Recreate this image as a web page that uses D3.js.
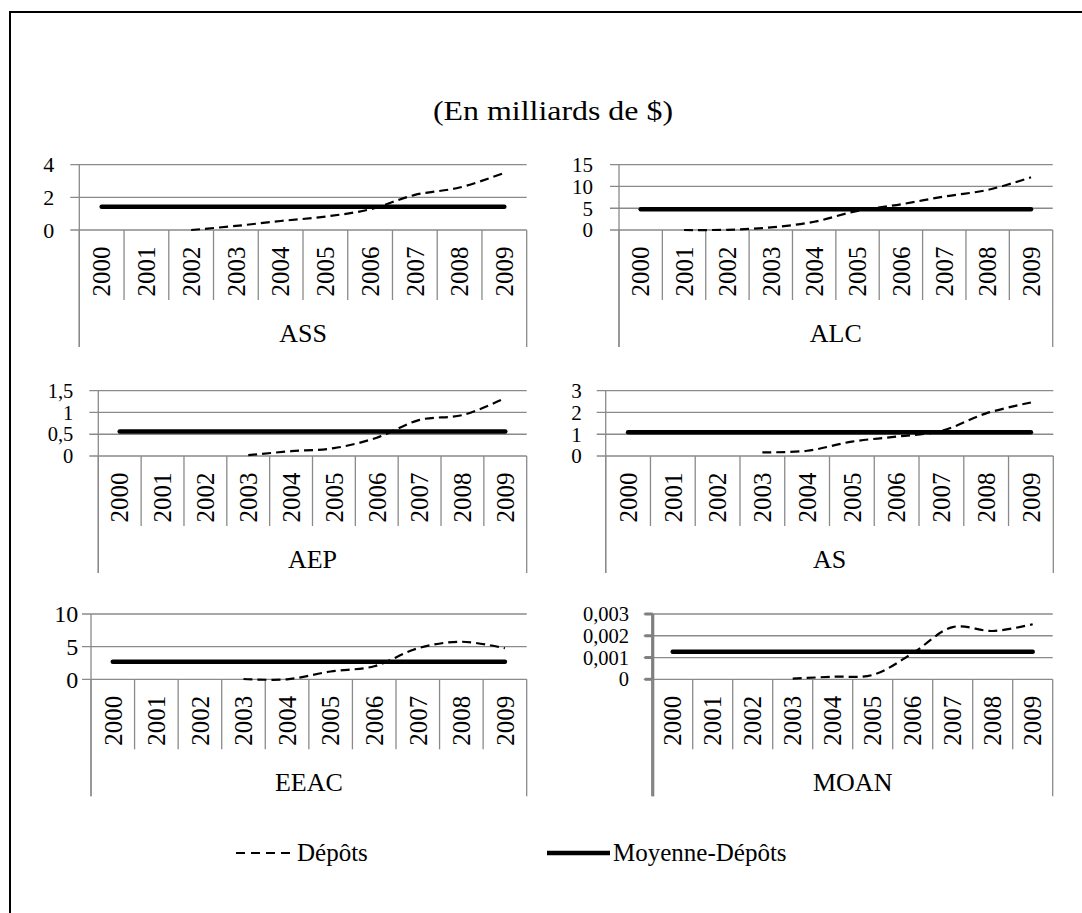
<!DOCTYPE html>
<html>
<head>
<meta charset="utf-8">
<script src="https://cdn.jsdelivr.net/npm/d3@7"></script>
<style>
  html, body { margin: 0; padding: 0; background: #fff; }
</style>
</head>
<body>
<svg id="chart" width="1082" height="913"></svg>
<script>
// ---------------- DATA ----------------
const years = ["2000","2001","2002","2003","2004","2005","2006","2007","2008","2009"];
const regions = ["ASS","ALC","AEP","AS","EEAC","MOAN"];
const seriesNames = ["Dépôts","Moyenne-Dépôts"];
const title = "(En milliards de $)";

// Dépôts (null = no value)
const depotsASS  = [null, null, 0.0, 0.25, 0.55, 0.82, 1.27, 2.15, 2.6, 3.5];
const depotsALC  = [null, 0.0, 0.05, 0.6, 1.9, 4.4, 5.9, 7.7, 9.2, 12.1];
const depotsAEP  = [null, null, null, 0.02, 0.11, 0.18, 0.42, 0.83, 0.94, 1.33];
const depotsAS   = [null, null, null, 0.17, 0.24, 0.66, 0.89, 1.15, 1.96, 2.46];
const depotsEEAC = [null, null, null, 0.05, 0.0, 1.2, 2.0, 4.75, 5.75, 4.75];
const depotsMOAN = [null, null, null, 0.00003, 0.00012, 0.0002, 0.0012, 0.0024, 0.00222, 0.00253];

// Moyenne-Dépôts (constant mean per region)
const meanASS  = 1.43;
const meanALC  = 4.75;
const meanAEP  = 0.56;
const meanAS   = 1.09;
const meanEEAC = 2.7;
const meanMOAN = 0.00127;

// Axis tick values and labels
const ticksASS  = [0, 2, 4];
const ticksALC  = [0, 5, 10, 15];
const ticksAEP  = [0, 0.5, 1, 1.5];
const ticksAS   = [0, 1, 2, 3];
const ticksEEAC = [0, 5, 10];
const ticksMOAN = [0, 0.001, 0.002, 0.003];
const labelsASS  = ["0","2","4"];
const labelsALC  = ["0","5","10","15"];
const labelsAEP  = ["0","0,5","1","1,5"];
const labelsAS   = ["0","1","2","3"];
const labelsEEAC = ["0","5","10"];
const labelsMOAN = ["0","0,001","0,002","0,003"];

// ---------------- LAYOUT (positions / styles only) ----------------
const layout = [
  {left: 79.3,  right: 526.7,  zero: 230,   top: 164.7, gap: 25,   tf: 22, thick: false},
  {left: 619,   right: 1052.7, zero: 230,   top: 164.7, gap: 26,   tf: 21, thick: false},
  {left: 98.3,  right: 526.7,  zero: 456,   top: 390.7, gap: 25,   tf: 20.5, thick: false},
  {left: 605.7, right: 1053.3, zero: 456,   top: 390.7, gap: 24,   tf: 21, thick: false},
  {left: 91,    right: 526.7,  zero: 679.3, top: 614,   gap: 12.7, tf: 24, thick: false},
  {left: 652.7, right: 1052.7, zero: 679.3, top: 614,   gap: 23.7, tf: 20.5, thick: true}
];

const panels = [
  {name: regions[0], vals: depotsASS,  mean: meanASS,  ticks: ticksASS,  labels: labelsASS},
  {name: regions[1], vals: depotsALC,  mean: meanALC,  ticks: ticksALC,  labels: labelsALC},
  {name: regions[2], vals: depotsAEP,  mean: meanAEP,  ticks: ticksAEP,  labels: labelsAEP},
  {name: regions[3], vals: depotsAS,   mean: meanAS,   ticks: ticksAS,   labels: labelsAS},
  {name: regions[4], vals: depotsEEAC, mean: meanEEAC, ticks: ticksEEAC, labels: labelsEEAC},
  {name: regions[5], vals: depotsMOAN, mean: meanMOAN, ticks: ticksMOAN, labels: labelsMOAN}
];

const FONT = "'Liberation Serif', 'Times New Roman', serif";
const svg = d3.select("#chart");
const GRID = "#8a8a8a";

// outer frame (cut off at right / bottom like reference)
svg.append("rect").attr("x", 10).attr("y", 12).attr("width", 1200).attr("height", 1000)
  .attr("fill", "none").attr("stroke", "#000").attr("stroke-width", 2);

// title
svg.append("text").attr("x", 553).attr("y", 120).attr("text-anchor", "middle")
  .style("font-family", FONT)
  .attr("font-size", 27).attr("textLength", 240).attr("lengthAdjust", "spacingAndGlyphs")
  .text(title);

panels.forEach((p, i) => {
  const L = layout[i];
  const g = svg.append("g");
  const x = d3.scaleBand().domain(years).range([L.left, L.right]).padding(0);
  const y = d3.scaleLinear().domain([p.ticks[0], p.ticks[p.ticks.length - 1]]).range([L.zero, L.top]);

  // gridlines + outward ticks
  g.selectAll(".grid").data(p.ticks).join("line")
    .attr("x1", L.left - 9).attr("x2", L.right)
    .attr("y1", d => y(d)).attr("y2", d => y(d))
    .attr("stroke", GRID).attr("stroke-width", 1.3);

  if (L.thick) {
    g.selectAll(".tk").data(p.ticks).join("line")
      .attr("x1", L.left - 8).attr("x2", L.left)
      .attr("y1", d => y(d)).attr("y2", d => y(d))
      .attr("stroke", "#7f7f7f").attr("stroke-width", 3);
  }

  // y axis line
  g.append("line").attr("x1", L.left).attr("x2", L.left)
    .attr("y1", L.top).attr("y2", L.zero + 117)
    .attr("stroke", L.thick ? "#7f7f7f" : GRID).attr("stroke-width", L.thick ? 3.2 : 1.3);

  // tick labels
  g.selectAll(".tl").data(p.ticks).join("text")
    .attr("x", L.left - L.gap).attr("y", d => y(d))
    .attr("dy", "0.35em").attr("text-anchor", "end")
    .style("font-family", FONT).attr("font-size", L.tf)
    .text((d, k) => p.labels[k]);

  // category separators
  const bounds = years.map(yr => x(yr)).concat([L.right]);
  g.selectAll(".sep").data(bounds).join("line")
    .attr("x1", d => d).attr("x2", d => d)
    .attr("y1", L.zero)
    .attr("y2", (d, k) => (k === 0 || k === bounds.length - 1) ? L.zero + 117 : L.zero + 70)
    .attr("stroke", GRID).attr("stroke-width", 1.3);

  // year labels (rotated)
  g.selectAll(".yl").data(years).join("text")
    .attr("transform", d => `translate(${x(d) + x.bandwidth() / 2},${L.zero + 16.5}) rotate(-90)`)
    .attr("text-anchor", "end").attr("dy", "0.35em")
    .style("font-family", FONT).attr("font-size", 25)
    .text(d => d);

  // region label
  g.append("text").attr("x", (L.left + L.right) / 2).attr("y", L.zero + 112)
    .attr("text-anchor", "middle").style("font-family", FONT).attr("font-size", 26).text(p.name);

  const cx = d => x(d) + x.bandwidth() / 2;

  // mean line
  g.append("line")
    .attr("x1", cx(years[0])).attr("x2", cx(years[years.length - 1]))
    .attr("y1", y(p.mean)).attr("y2", y(p.mean))
    .attr("stroke", "#000").attr("stroke-width", 4.5).attr("stroke-linecap", "round");

  // dépôts line (smoothed, dashed)
  const pts = years.map((yr, k) => ({yr, v: p.vals[k]})).filter(d => d.v !== null);
  const line = d3.line().x(d => cx(d.yr)).y(d => y(d.v)).curve(d3.curveCatmullRom.alpha(0.5));
  g.append("path").attr("d", line(pts))
    .attr("fill", "none").attr("stroke", "#000").attr("stroke-width", 2.2)
    .attr("stroke-dasharray", "9,5");
});

// legend
const leg = svg.append("g");
leg.append("line").attr("x1", 236).attr("x2", 290).attr("y1", 853).attr("y2", 853)
  .attr("stroke", "#000").attr("stroke-width", 2.2).attr("stroke-dasharray", "9,6");
leg.append("text").attr("x", 297).attr("y", 861).style("font-family", FONT).attr("font-size", 25).text(seriesNames[0]);
leg.append("line").attr("x1", 547).attr("x2", 610).attr("y1", 853).attr("y2", 853)
  .attr("stroke", "#000").attr("stroke-width", 4.5);
leg.append("text").attr("x", 613).attr("y", 861).style("font-family", FONT).attr("font-size", 25).text(seriesNames[1]);
</script>
</body>
</html>
